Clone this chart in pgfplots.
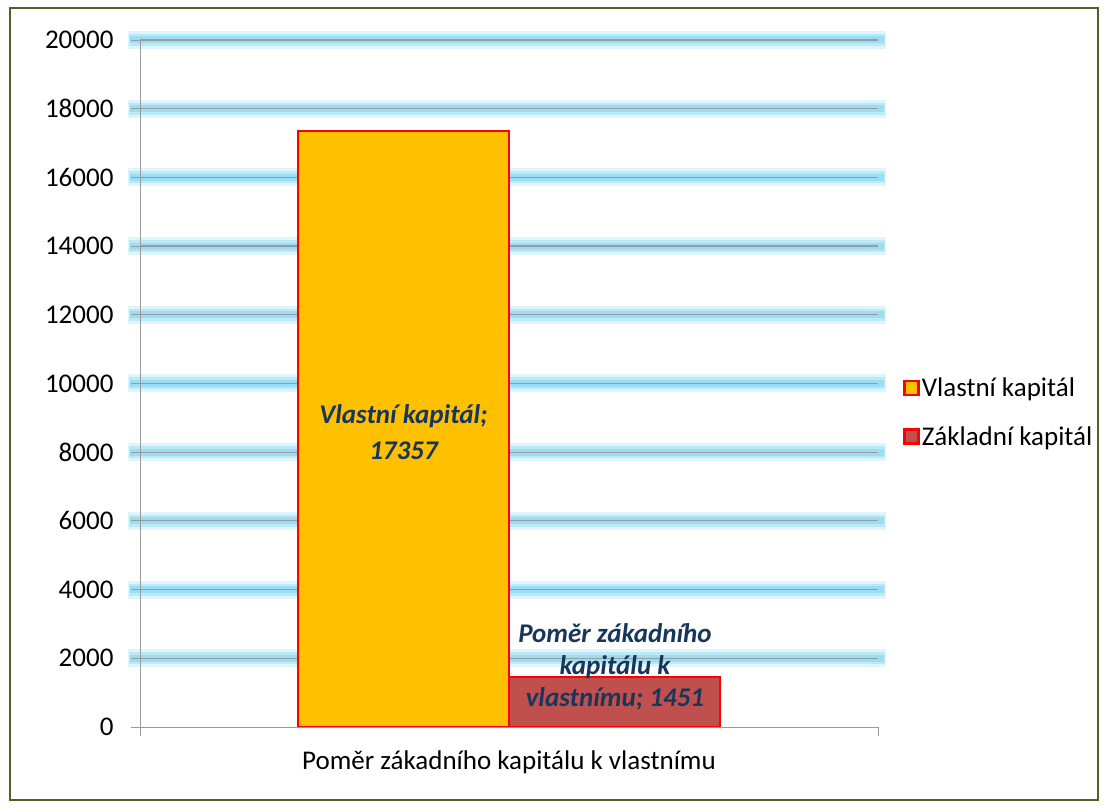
\documentclass[border=0pt]{standalone}
\usepackage{pgfplots}
\pgfplotsset{compat=1.18}
\usepackage{fontspec}
\setmainfont{Carlito}
\definecolor{barY}{RGB}{255,192,0}
\definecolor{barR}{RGB}{192,80,77}
\definecolor{edgeR}{RGB}{255,0,0}
\definecolor{gridG}{RGB}{155,155,155}
\definecolor{glowA}{RGB}{222,245,252}
\definecolor{glowB}{RGB}{186,234,248}
\definecolor{glowC}{RGB}{155,222,243}
\definecolor{lblC}{RGB}{23,54,93}
\definecolor{frameC}{RGB}{79,98,40}

\begin{document}
\begin{tikzpicture}
\path[use as bounding box] (0,0) rectangle (1108bp,809bp);
\draw[frameC, line width=1.6bp] (10bp,9bp) rectangle (1098bp,801bp);
\begin{axis}[
    at={(140bp,82bp)}, anchor=south west,
    scale only axis, clip=false, axis on top,
    width=738bp, height=687bp,
    xmin=-0.5, xmax=0.5,
    ymin=0, ymax=20000,
    axis x line*=bottom, axis y line*=left,
    axis line style={gridG, line width=0.8bp, -},
    tick align=outside,
    major tick length=9bp,
    tick style={gridG, line width=0.8bp},
    xtick={-0.5,0.5}, xticklabels={},
    ytick={0,2000,4000,6000,8000,10000,12000,14000,16000,18000,20000},
    scaled y ticks=false,
    yticklabel style={font=\fontsize{27bp}{30bp}\selectfont, xshift=-14bp},
    /pgf/number format/1000 sep={},
    /pgf/number format/assume math mode=true,
    xlabel={Poměr zákadního kapitálu k vlastnímu},
    xlabel style={font=\fontsize{27bp}{30bp}\selectfont, at={(axis description cs:0.5,0)}, anchor=north, yshift=-20bp},
    ybar, bar width=211bp,
    legend style={at={(1.030,0.458)}, anchor=west, draw=none, fill=none,
        font=\fontsize{27bp}{30bp}\selectfont, row sep=24bp,
        legend cell align=left},
    legend image code/.code={\draw[#1, line width=2.5bp] (0bp,-7bp) rectangle (14bp,7bp);},
]
% glowing grid lines
\pgfplotsinvokeforeach{2000,4000,6000,8000,10000,12000,14000,16000,18000,20000}{
  \draw[glowA, line width=18bp] ([xshift=-12bp]axis cs:-0.5,#1) -- ([xshift=8bp]axis cs:0.5,#1);
  \draw[glowB, line width=12bp] ([xshift=-11bp]axis cs:-0.5,#1) -- ([xshift=7bp]axis cs:0.5,#1);
  \draw[glowC, line width=7bp] ([xshift=-10bp]axis cs:-0.5,#1) -- ([xshift=6bp]axis cs:0.5,#1);
  \draw[gridG, line width=1.2bp] (axis cs:-0.5,#1) -- (axis cs:0.5,#1);
}
\addplot[fill=barY, draw=edgeR, line width=2.5bp, bar shift=-105.5bp] coordinates {(0,17357)};
\addplot[fill=barR, draw=edgeR, line width=2.5bp, bar shift=105.5bp] coordinates {(0,1451)};
\legend{Vlastní kapitál, Základní kapitál}
\node[font=\fontsize{27bp}{36bp}\selectfont\bfseries\itshape, text=lblC, align=center]
    at (axis cs:-0.143,8588) {Vlastní kapitál;\\17357};
\node[font=\fontsize{27bp}{32bp}\selectfont\bfseries\itshape, text=lblC, align=center]
    at (axis cs:0.1436,1747) {Poměr zákadního\\kapitálu k\\vlastnímu; 1451};
\end{axis}
\end{tikzpicture}
\end{document}
